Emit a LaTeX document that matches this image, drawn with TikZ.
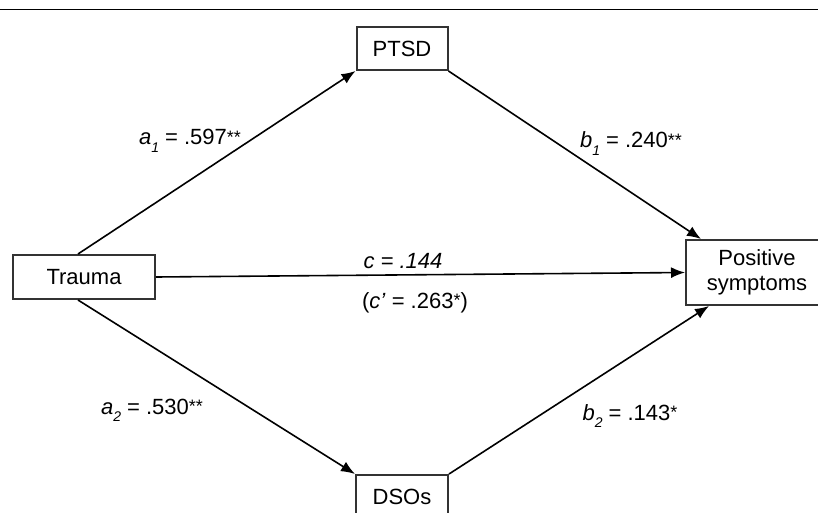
\documentclass[tikz,border=0pt]{standalone}
\usepackage{fontspec}
\setmainfont{Liberation Sans}
\usetikzlibrary{arrows.meta}
\newcommand{\sbx}[1]{\raisebox{-0.32em}{\fontsize{14}{14}\selectfont\itshape #1}}
\newcommand{\stx}[1]{\raisebox{0.08em}{\fontsize{18}{18}\selectfont #1}}
\begin{document}
\begin{tikzpicture}[x=1pt,y=-1pt,
  box/.style={draw=black!80,line width=2pt,fill=white,inner sep=0pt,
    font=\fontsize{22}{25}\selectfont,align=center},
  conn/.style={line width=1.6pt,-{Latex[length=14pt,width=11pt]}},
  lab/.style={inner sep=0pt,font=\fontsize{22}{25}\selectfont,anchor=base}]
\useasboundingbox (0,0) rectangle (818,513);
\draw[line width=1.6pt] (0,9.5) -- (818,9.5);
\node[box,minimum width=91pt,minimum height=43pt] (ptsd) at (402,48.5) {PTSD};
\node[box,minimum width=142pt,minimum height=44pt] (trauma) at (84,277) {Trauma};
\node[box,minimum width=142pt,minimum height=65pt] (pos) at (757,272.5) {Positive\\symptoms};
\node[box,minimum width=92pt,minimum height=44pt] (dsos) at (402,497) {DSOs};
\draw[conn] ([xshift=-6pt]trauma.north) -- (ptsd.south west);
\draw[conn] (ptsd.south east) -- ([xshift=16pt]pos.north west);
\draw[conn] (trauma.east) -- (pos.west);
\draw[conn] ([xshift=-6pt]trauma.south) -- (dsos.north west);
\draw[conn] (dsos.north east) -- ([xshift=24pt]pos.south west);
\node[lab] (la1) at (190,145) {\textit{a}\sbx{1} = .597\stx{**}};
\node[lab] (lb1) at (631,148) {\textit{b}\sbx{1} = .240\stx{**}};
\node[lab] (lc) at (403,268) {\textit{c = .144}};
\node[lab] (lcp) at (415,308) {(\textit{c'} = .263\stx{*})};
\node[lab] (la2) at (152,414) {\textit{a}\sbx{2} = .530\stx{**}};
\node[lab] (lb2) at (630,420) {\textit{b}\sbx{2} = .143\stx{*}};
\end{tikzpicture}
\end{document}
